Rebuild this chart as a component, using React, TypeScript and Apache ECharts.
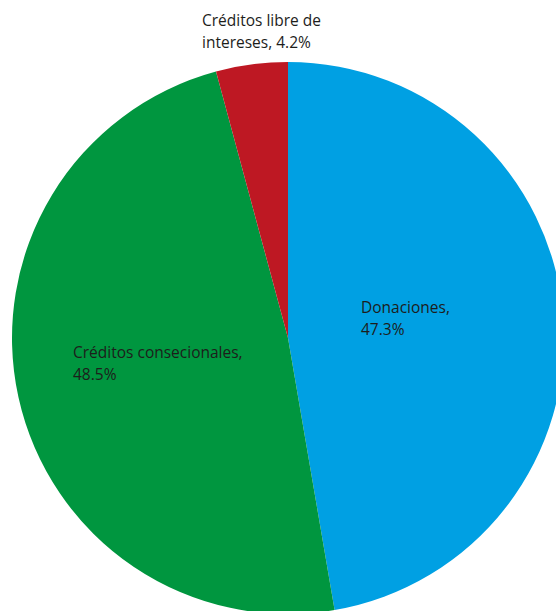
import React, { useEffect, useRef } from "react";
import * as echarts from "echarts";

const categories = ["Donaciones", "Créditos consecionales", "Créditos libre de\nintereses"];
const values = [47.3, 48.5, 4.2];
const colors = ["#00A0E3", "#00963F", "#BE1823"];
const labelTexts = ["Donaciones,\n47.3%", "Créditos consecionales,\n48.5%", "Créditos libre de\nintereses, 4.2%"];

const labelSpots = [
  { x: 361, y: 296 },
  { x: 73, y: 341 },
  { x: 202, y: 9 },
];

export default function App() {
  const ref = useRef<HTMLDivElement>(null);
  useEffect(() => {
    if (!ref.current) return;
    const chart = echarts.init(ref.current, null, { renderer: "svg" });
    chart.setOption({
      animation: false,
      series: [
        {
          type: "pie",
          center: [288, 338],
          radius: [0, 276],
          startAngle: 90,
          clockwise: true,
          avoidLabelOverlap: false,
          data: categories.map((c, i) => ({
            name: c,
            value: values[i],
            itemStyle: { color: colors[i] },
            label: { formatter: labelTexts[i] },
          })),
          label: {
            show: true,
            position: "inside",
            color: "#1d1d1b",
            fontFamily: "Open Sans",
            fontSize: 15.5,
            lineHeight: 22,
            align: "left",
          },
          labelLine: { show: false },
          labelLayout: (p: any) => ({
            x: labelSpots[p.dataIndex].x,
            y: labelSpots[p.dataIndex].y,
            align: "left",
            verticalAlign: "top",
          }),
          emphasis: { disabled: true },
        },
      ],
    });
    return () => chart.dispose();
  }, []);
  return (
    <div
      ref={ref}
      style={{ position: "fixed", left: 0, top: 0, width: 556, height: 611, background: "#fff" }}
    />
  );
}
